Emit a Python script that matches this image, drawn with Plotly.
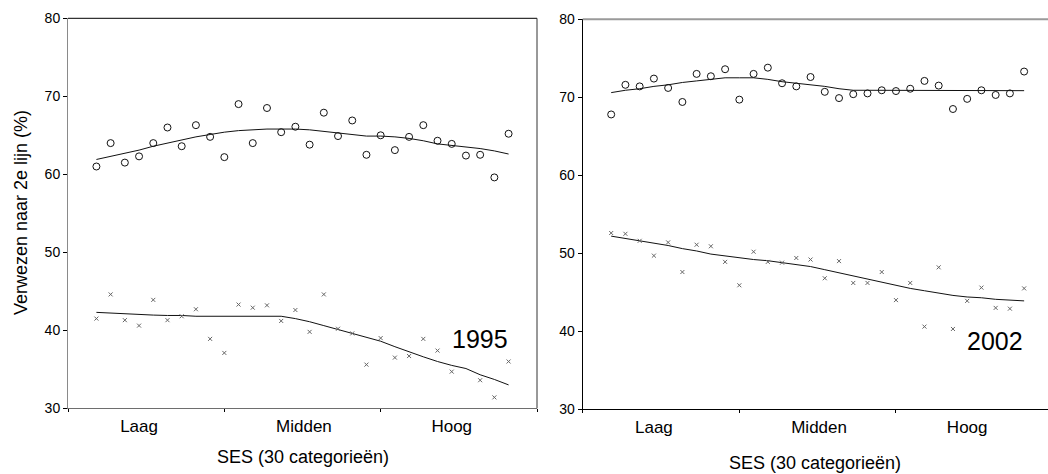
import plotly.graph_objects as go

# SES categories 1..30 (low -> high)
ses = list(range(1, 31))

# 1995: share referred to second-line care (%), two groups
y1995_circles = [61.0, 64.0, 61.5, 62.3, 64.0, 66.0, 63.6, 66.3, 64.8, 62.2,
                 69.0, 64.0, 68.5, 65.4, 66.1, 63.8, 67.9, 64.9, 66.9, 62.5,
                 65.0, 63.1, 64.8, 66.3, 64.3, 63.9, 62.4, 62.5, 59.6, 65.2]
fit1995_circles = [61.9, 62.3, 62.7, 63.1, 63.6, 64.0, 64.4, 64.8, 65.1, 65.4,
                   65.6, 65.7, 65.8, 65.8, 65.8, 65.7, 65.5, 65.3, 65.1, 64.9,
                   64.9, 64.8, 64.6, 64.3, 63.9, 63.7, 63.5, 63.3, 63.0, 62.6]
y1995_crosses = [41.5, 44.6, 41.3, 40.6, 43.9, 41.3, 41.8, 42.7, 38.9, 37.1,
                 43.3, 42.9, 43.2, 41.2, 42.6, 39.8, 44.6, 40.2, 39.6, 35.6,
                 39.0, 36.5, 36.7, 38.9, 37.4, 34.7, None, 33.6, 31.4, 36.0]
fit1995_crosses = [42.3, 42.2, 42.1, 42.0, 41.95, 41.9, 41.9, 41.8, 41.8, 41.8,
                   41.8, 41.8, 41.8, 41.8, 41.5, 41.1, 40.6, 40.1, 39.6, 39.1,
                   38.6, 37.9, 37.2, 36.6, 36.0, 35.5, 35.1, 34.3, 33.7, 33.0]

# 2002
y2002_circles = [67.8, 71.6, 71.4, 72.4, 71.2, 69.4, 73.0, 72.7, 73.6, 69.7,
                 73.0, 73.8, 71.8, 71.4, 72.6, 70.7, 69.9, 70.4, 70.5, 70.9,
                 70.8, 71.1, 72.1, 71.5, 68.5, 69.8, 70.9, 70.3, 70.5, 73.3]
fit2002_circles = [70.6, 70.9, 71.1, 71.4, 71.6, 71.9, 72.1, 72.3, 72.5, 72.5,
                   72.5, 72.3, 72.0, 71.8, 71.6, 71.4, 71.1, 70.9, 70.9, 70.9,
                   70.85, 70.85, 70.85, 70.85, 70.85, 70.85, 70.85, 70.85, 70.85, 70.85]
y2002_crosses = [52.6, 52.5, 51.6, 49.7, 51.4, 47.6, 51.1, 50.9, 48.9, 45.9,
                 50.2, 48.9, 48.8, 49.4, 49.2, 46.8, 49.0, 46.2, 46.2, 47.6,
                 44.0, 46.2, 40.6, 48.2, 40.3, 43.9, 45.6, 43.0, 42.9, 45.5]
fit2002_crosses = [52.2, 51.9, 51.6, 51.3, 51.0, 50.6, 50.3, 49.9, 49.65, 49.4,
                   49.2, 49.05, 48.8, 48.55, 48.3, 47.9, 47.5, 47.1, 46.7, 46.3,
                   45.9, 45.5, 45.2, 44.9, 44.6, 44.4, 44.3, 44.1, 44.0, 43.9]

group_labels = ["Laag", "Midden", "Hoog"]
group_label_pos = [4, 15.6, 26]
group_bounds = [-1, 10, 21, 32]
y_ticks = [30, 40, 50, 60, 70, 80]

FONT = "Liberation Sans, Arial, sans-serif"
W, H = 1048, 474

fig = go.Figure()

panels = [
    ("x", "y", y1995_circles, fit1995_circles, y1995_crosses, fit1995_crosses),
    ("x2", "y2", y2002_circles, fit2002_circles, y2002_crosses, fit2002_crosses),
]
for xa, ya, circ, fcirc, cross, fcross in panels:
    fig.add_trace(go.Scatter(x=ses, y=fcirc, mode="lines", xaxis=xa, yaxis=ya,
                             line=dict(color="#111111", width=1), hoverinfo="skip"))
    fig.add_trace(go.Scatter(x=ses, y=fcross, mode="lines", xaxis=xa, yaxis=ya,
                             line=dict(color="#111111", width=1), hoverinfo="skip"))
    fig.add_trace(go.Scatter(x=ses, y=circ, mode="markers", xaxis=xa, yaxis=ya,
                             marker=dict(symbol="circle-open", size=7, color="#111111",
                                         line=dict(width=1))))
    fig.add_trace(go.Scatter(x=ses, y=cross, mode="markers", xaxis=xa, yaxis=ya,
                             marker=dict(symbol="x-thin-open", size=4, color="#666666",
                                         line=dict(width=1, color="#666666"))))


def px_x(p):
    return p / W


def px_y(p):
    return 1 - p / H


xcommon = dict(
    tickmode="array", tickvals=group_label_pos, ticktext=group_labels,
    ticks="", showgrid=False, zeroline=False, showline=True, linewidth=1,
    tickfont=dict(family=FONT, size=17, color="#000"), ticklabelstandoff=2,
    minor=dict(tickmode="array", tickvals=group_bounds, ticks="outside",
               ticklen=3, tickwidth=1, tickcolor="#000", showgrid=False),
    automargin=False, fixedrange=True,
)
ycommon = dict(
    range=[30, 80], tickmode="array", tickvals=y_ticks, ticks="outside",
    ticklen=4, tickwidth=1, tickcolor="#000", showgrid=False, zeroline=False,
    showline=True, linewidth=1,
    tickfont=dict(family=FONT, size=14, color="#000"),
    automargin=False, fixedrange=True,
)

fig.update_layout(
    width=W, height=H, margin=dict(l=0, r=0, t=0, b=0),
    paper_bgcolor="white", plot_bgcolor="white", showlegend=False,
    template=None,
    xaxis=dict(xcommon, domain=[px_x(68), px_x(537)], range=[-1, 32],
               linecolor="#6e6e6e", anchor="y"),
    yaxis=dict(ycommon, domain=[px_y(408.3), px_y(18.3)], linecolor="#8a8a8a",
               anchor="x"),
    xaxis2=dict(xcommon, domain=[px_x(582.7), 1.0],
                range=[-1, -1 + (W - 582.7) / 14.24], linecolor="#000", anchor="y2"),
    yaxis2=dict(ycommon, domain=[px_y(409.3), px_y(19.3)], linecolor="#000",
                anchor="x2"),
)

# frame edges
fig.add_shape(type="line", xref="x domain", yref="y domain", x0=0, x1=1, y0=1, y1=1,
              line=dict(color="#000", width=1))
fig.add_shape(type="line", xref="x domain", yref="y domain", x0=1, x1=1, y0=0, y1=1,
              line=dict(color="#333", width=1))
fig.add_shape(type="line", xref="x2 domain", yref="y2 domain", x0=0, x1=1, y0=1, y1=1,
              line=dict(color="#9a9a9a", width=2))

# year labels
fig.add_annotation(text="1995", x=27.97, y=38.85, xref="x", yref="y", showarrow=False,
                   font=dict(family=FONT, size=25, color="#000"))
fig.add_annotation(text="2002", x=27.97, y=38.8, xref="x2", yref="y2", showarrow=False,
                   font=dict(family=FONT, size=25, color="#000"))

# axis titles
fig.add_annotation(text="SES (30 categorieën)", x=0.5, y=px_y(457), xref="x domain",
                   yref="paper", showarrow=False, yanchor="middle",
                   font=dict(family=FONT, size=18, color="#000"))
fig.add_annotation(text="SES (30 categorieën)", x=0.5, y=px_y(463), xref="x2 domain",
                   yref="paper", showarrow=False, yanchor="middle",
                   font=dict(family=FONT, size=18, color="#000"))
fig.add_annotation(text="Verwezen naar 2e lijn (%)", x=px_x(21), y=px_y(213),
                   xref="paper", yref="paper", showarrow=False, textangle=-90,
                   xanchor="center", yanchor="middle",
                   font=dict(family=FONT, size=18, color="#000"))

fig.write_html("out.html")
